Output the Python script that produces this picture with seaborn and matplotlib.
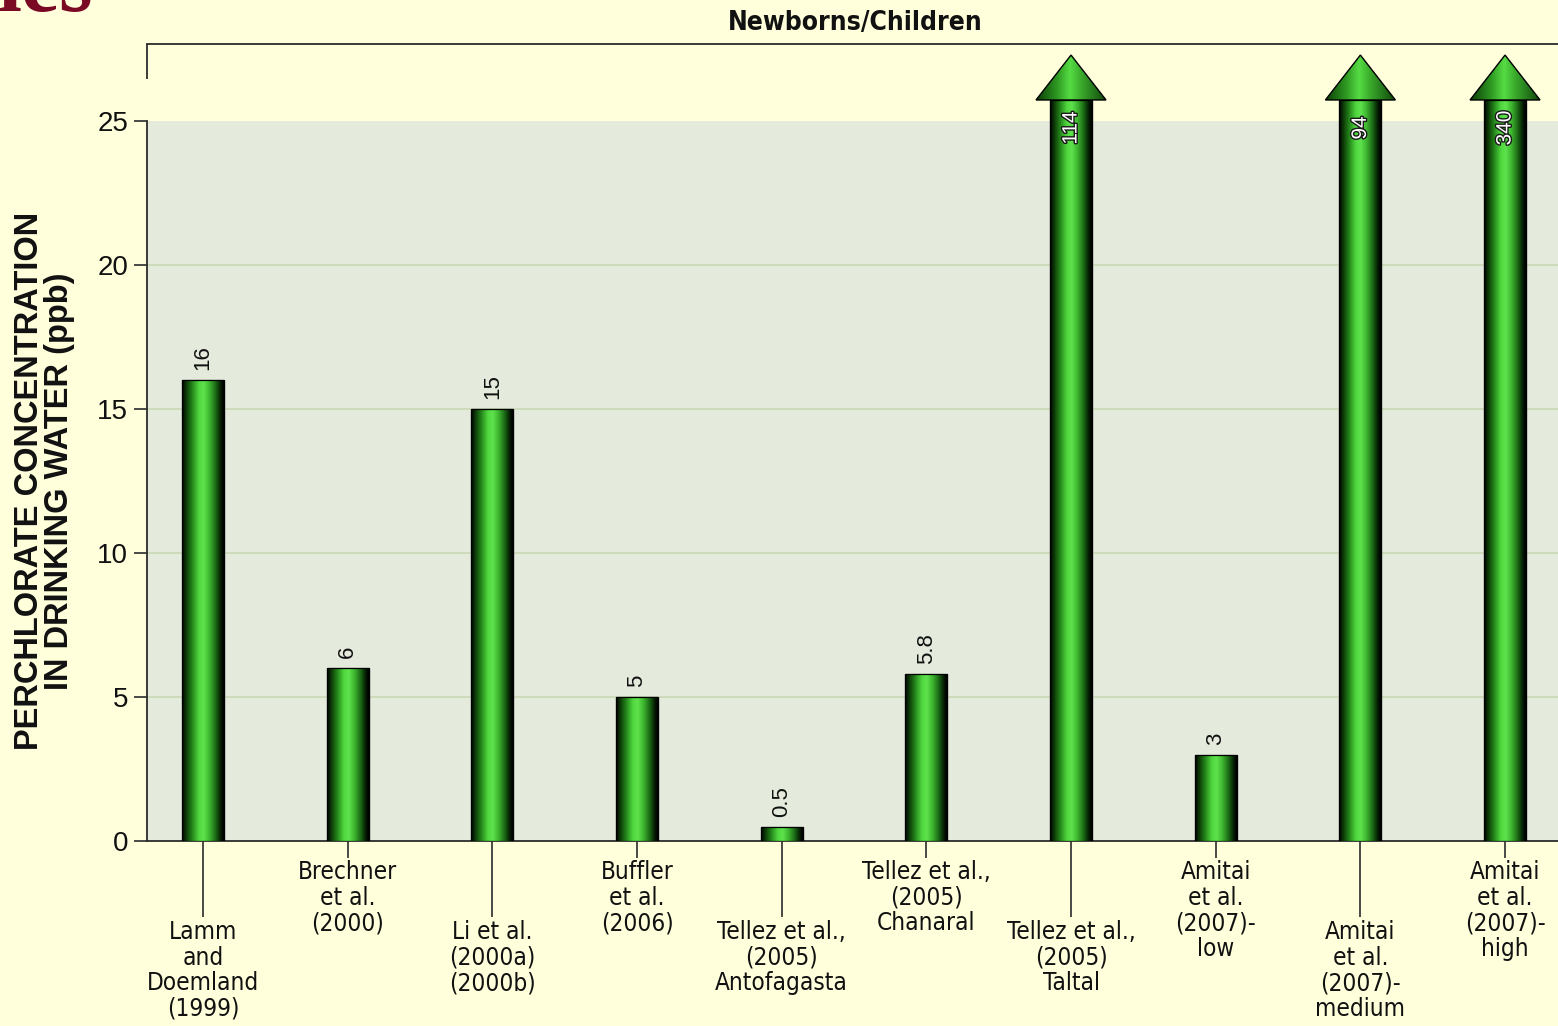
import numpy as np
import pandas as pd
import matplotlib
matplotlib.use("Agg")
import matplotlib.pyplot as plt
import matplotlib.font_manager as fm
import matplotlib.patheffects as pe
from matplotlib.colors import LinearSegmentedColormap
from matplotlib.patches import Polygon
import seaborn as sns

# ---- data -------------------------------------------------------------
studies = [
    "Lamm\nand\nDoemland\n(1999)",
    "Brechner\net al.\n(2000)",
    "Li et al.\n(2000a)\n(2000b)",
    "Buffler\net al.\n(2006)",
    "Tellez et al.,\n(2005)\nAntofagasta",
    "Tellez et al.,\n(2005)\nChanaral",
    "Tellez et al.,\n(2005)\nTaltal",
    "Amitai\net al.\n(2007)-\nlow",
    "Amitai\net al.\n(2007)-\nmedium",
    "Amitai\net al.\n(2007)-\nhigh",
]
value_labels = ["16", "6", "15", "5", "0.5", "5.8", "114", "3", "94", "340"]
ppb = [16, 6, 15, 5, 0.5, 5.8, 114, 3, 94, 340]
y_ticks = [0, 5, 10, 15, 20, 25]

# ---- styling ----------------------------------------------------------
BG = "#FFFFDC"
PANEL = "#E4EADC"
GRID = "#C9D8B4"
INK = "#2B2B2B"

sns.set_theme(style="white")
names = {f.name for f in fm.fontManager.ttflist}
NARROW = "Liberation Sans Narrow" if "Liberation Sans Narrow" in names else "DejaVu Sans"
NARROW_STRETCH = "normal" if NARROW == "Liberation Sans Narrow" else "condensed"
plt.rcParams["font.family"] = ["Liberation Sans", "DejaVu Sans"]

CAP = 25.73      # top of the shaft for values beyond the axis range
TIP = 27.29      # arrow tip
YTOP = 27.674    # top of the axes frame

fig = plt.figure(figsize=(15.58, 10.26), dpi=100, facecolor=BG)
W, H = 1558, 1026
ax = fig.add_axes([147 / W, (H - 841) / H, (W - 147) / W, (841 - 44) / H])
ax.set_facecolor(BG)

df = pd.DataFrame({"study": studies, "ppb": ppb})
sns.barplot(data=df, x="study", y="ppb", width=0.29, color="#3FB52E",
            edgecolor="black", linewidth=0.8, ax=ax, zorder=3, errorbar=None)

ax.set_xlim(-0.387, 9.366)
ax.set_ylim(0, YTOP)

# shaded panel below 25 and light gridlines
ax.axhspan(0, 25, color=PANEL, zorder=0, lw=0)
ax.hlines([5, 10, 15, 20], -0.387, 9.366, colors=GRID, lw=1.2, zorder=1)

# cylinder-like shading across each bar
shade = LinearSegmentedColormap.from_list(
    "tube",
    [(0.0, "#000000"), (0.08, "#0A2E06"), (0.22, "#1F7A16"), (0.40, "#4FD63E"),
     (0.52, "#5EE34C"), (0.66, "#3DB42E"), (0.82, "#176012"), (0.93, "#041A03"),
     (1.0, "#000000")])
head_shade = LinearSegmentedColormap.from_list(
    "head",
    [(0.0, "#0B3A07"), (0.3, "#2E9A22"), (0.48, "#56DC44"), (0.62, "#3DB02E"),
     (1.0, "#0E420A")])
grad = np.linspace(0, 1, 256).reshape(1, -1)

for patch, val, lab in zip(ax.patches, ppb, value_labels):
    x0 = patch.get_x()
    w = patch.get_width()
    xc = x0 + w / 2
    h = min(val, CAP)
    patch.set_height(h)
    img = ax.imshow(grad, extent=[x0, x0 + w, 0, h], aspect="auto", cmap=shade,
                    interpolation="bilinear", zorder=3.2)
    img.set_clip_path(patch)
    ax.add_patch(plt.Rectangle((x0, 0), w, h, fill=False, ec="black", lw=0.9,
                               zorder=3.4))
    if val > CAP:
        hw = 0.242
        head = [[xc - hw, CAP], [xc + hw, CAP], [xc, TIP]]
        tri = Polygon(head, closed=True, fc="#2E9A22", ec="none", zorder=3.5)
        ax.add_patch(tri)
        himg = ax.imshow(grad, extent=[xc - hw, xc + hw, CAP, TIP], aspect="auto",
                         cmap=head_shade, interpolation="bilinear", zorder=3.6)
        himg.set_clip_path(tri)
        ax.add_patch(Polygon(head, closed=True, fill=False, ec="black", lw=1.0,
                             zorder=3.7))
        ax.text(xc, 24.76, lab, rotation=90, ha="center", va="center",
                fontsize=15, color="white", zorder=4,
                path_effects=[pe.withStroke(linewidth=2, foreground="#1A1A1A")])
    else:
        ax.annotate(lab, (xc, h), xytext=(0, 7), textcoords="offset points",
                    rotation=90, ha="center", va="bottom", fontsize=16,
                    color="#111111", zorder=4)

ax.set_xlim(-0.387, 9.366)
ax.set_ylim(0, YTOP)

# ---- axes, ticks and labels --------------------------------------------
ax.spines["right"].set_visible(False)
for s in ["left", "bottom", "top"]:
    ax.spines[s].set_color(INK)
    ax.spines[s].set_linewidth(1.3)
ax.spines["left"].set_bounds(0, 25)
ax.plot([-0.387, -0.387], [26.46, YTOP], color=INK, lw=1.3, clip_on=False,
        solid_capstyle="butt", zorder=5)

ax.set_yticks(y_ticks)
ax.set_yticklabels([str(t) for t in y_ticks])
ax.tick_params(axis="y", which="major", left=True, length=9.5, width=1.2,
               color=INK, labelsize=20, pad=4, labelcolor="#111111")

idx = np.arange(len(studies))
short_idx = idx[1::2]
long_idx = idx[0::2]
ax.set_xticks(short_idx)
ax.set_xticklabels([studies[i] for i in short_idx])
ax.set_xticks(long_idx, minor=True)
ax.set_xticklabels([studies[i] for i in long_idx], minor=True)
ax.tick_params(axis="x", which="major", bottom=True, length=12, width=1.2,
               color=INK, pad=2)
ax.tick_params(axis="x", which="minor", bottom=True, length=55, width=1.2,
               color=INK, pad=2)
for t in ax.get_xticklabels(which="both"):
    t.set_fontfamily(NARROW)
    t.set_fontstretch(NARROW_STRETCH)
    t.set_fontsize(17.5)
    t.set_linespacing(1.08)
    t.set_multialignment("center")
    t.set_color("#111111")
ax.set_xlabel("")

ax.set_ylabel("PERCHLORATE CONCENTRATION\nIN DRINKING WATER (ppb)",
              fontsize=23.5, fontweight="bold", color="#111111", linespacing=0.95)
ax.yaxis.set_label_coords(-0.051, 0.4517)

ax.set_title("Newborns/Children", x=(855 - 147) / (W - 147), pad=10,
             fontsize=19, fontweight="bold", fontfamily=NARROW,
             fontstretch=NARROW_STRETCH, color="#111111")

fig.text(93 / W, 1 - 11 / H, "ies", ha="right", va="baseline", fontsize=62,
         fontweight="bold", family=["Liberation Serif", "DejaVu Serif"],
         color="#7A0A24")

fig.savefig("out.png", dpi=100, facecolor=BG)
